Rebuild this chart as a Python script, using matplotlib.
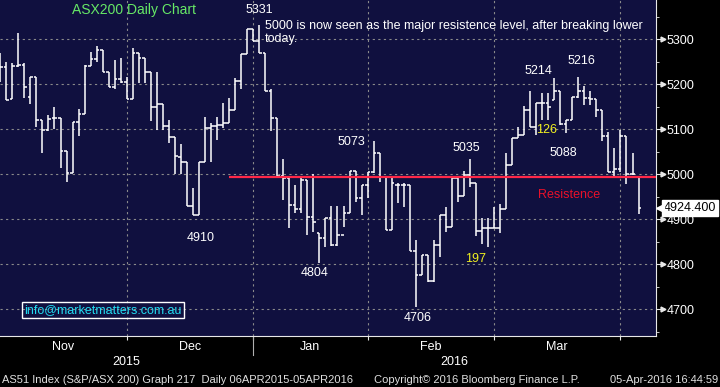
import numpy as np
import matplotlib
matplotlib.use("Agg")
import matplotlib.pyplot as plt
from matplotlib.ticker import MultipleLocator

plt.rcParams['font.family'] = ['Liberation Sans', 'DejaVu Sans']

# daily OHLC, 30-Oct-2015 .. 05-Apr-2016
opens = [5230, 5239, 5167, 5241, 5243, 5171, 5216, 5121, 5099, 5124,
         5124, 5052, 5004, 5117, 5133, 5241, 5256, 5275, 5228, 5193,
         5211, 5204, 5167, 5269, 5258, 5228, 5150, 5156, 5108, 5082,
         5039, 5028, 4930, 4910, 5028, 5102, 5107, 5110, 5115, 5143,
         5207, 5267, 5322, 5295, 5270, 5186, 5124, 4996, 4991, 4932,
         4924, 4987, 4906, 4869, 4858, 4902, 4843, 4865, 4915, 5007,
         4947, 4976, 5006, 5047, 4993, 4876, 4976, 4976, 4976, 4830,
         4776, 4821, 4764, 4844, 4910, 4882, 4991, 4952, 4999, 4980,
         4875, 4880, 4880, 4880, 4922, 5021, 5080, 5087, 5143, 5106,
         5158, 5159, 5165, 5184, 5112, 5121, 5171, 5184, 5169, 5167,
         5143, 5085, 5006, 5011, 5084, 5001, 4993]
highs = [5269, 5249, 5247, 5313, 5247, 5216, 5216, 5121, 5132, 5149,
         5124, 5052, 5117, 5144, 5243, 5271, 5285, 5275, 5228, 5254,
         5259, 5216, 5280, 5269, 5258, 5228, 5228, 5156, 5121, 5082,
         5067, 5028, 4969, 5028, 5128, 5113, 5128, 5159, 5169, 5213,
         5267, 5322, 5322, 5331, 5270, 5189, 5124, 5033, 4991, 4976,
         4991, 4987, 5001, 4869, 4902, 4930, 4930, 4930, 5007, 5007,
         4976, 5006, 5073, 5047, 4993, 4991, 4980, 4980, 4976, 4854,
         4821, 4821, 4854, 4910, 4927, 4991, 4991, 5007, 5035, 4980,
         4902, 4902, 4927, 4935, 5047, 5080, 5104, 5152, 5184, 5159,
         5180, 5181, 5214, 5184, 5121, 5171, 5216, 5196, 5184, 5167,
         5143, 5095, 5058, 5099, 5084, 5047, 4993]
lows = [5206, 5165, 5167, 5239, 5169, 5156, 5104, 5048, 5097, 5100,
        5013, 4982, 5004, 5084, 5133, 5241, 5250, 5228, 5193, 5189,
        5202, 5167, 5167, 5202, 5202, 5119, 5099, 5099, 5070, 5001,
        5000, 4930, 4910, 4910, 5028, 5028, 5076, 5102, 5115, 5143,
        5189, 5267, 5295, 5269, 5184, 5097, 4996, 4943, 4880, 4913,
        4913, 4865, 4873, 4804, 4839, 4841, 4841, 4884, 4915, 4939,
        4910, 4948, 5004, 4984, 4876, 4876, 4936, 4928, 4830, 4706,
        4776, 4761, 4761, 4816, 4871, 4882, 4939, 4952, 4971, 4863,
        4845, 4839, 4880, 4870, 4922, 5021, 5080, 5087, 5106, 5088,
        5121, 5121, 5165, 5110, 5091, 5121, 5169, 5154, 5154, 5127,
        5075, 5006, 4991, 5005, 4978, 4999, 4911]
closes = [5239, 5165, 5241, 5243, 5193, 5216, 5121, 5099, 5123, 5124,
          5052, 5004, 5117, 5133, 5241, 5256, 5275, 5228, 5193, 5211,
          5204, 5167, 5269, 5258, 5228, 5150, 5156, 5108, 5082, 5041,
          5028, 4930, 4910, 5028, 5102, 5107, 5110, 5115, 5143, 5207,
          5267, 5322, 5295, 5270, 5186, 5124, 4996, 4991, 4932, 4924,
          4987, 4906, 4895, 4858, 4902, 4843, 4865, 4915, 5007, 4947,
          4976, 5006, 5047, 4993, 4876, 4981, 4976, 4976, 4830, 4776,
          4821, 4764, 4844, 4910, 4882, 4991, 4952, 4999, 4980, 4875,
          4880, 4880, 4880, 4922, 5021, 5080, 5087, 5143, 5106, 5158,
          5159, 5150, 5184, 5112, 5121, 5171, 5184, 5169, 5167, 5143,
          5085, 5006, 5011, 5084, 5001, 5001, 4924.4]

month_names = ['Nov', 'Dec', 'Jan', 'Feb', 'Mar']
month_ends = [21, 42, 61, 82, 103]          # bar index of last trading day of month
year_names = ['2015', '2016']
yticks = [4700, 4800, 4900, 5000, 5100, 5200, 5300]
resistance = 4995
resistance_start = 38
last_price = closes[-1]

# labels on the chart: text, bar position, price level, colour
notes = [('5331', 43.1, 5365, 'white'),
         ('5073', 58.3, 5072, 'white'),
         ('4910', 33.3, 4858, 'white'),
         ('4804', 52.2, 4781, 'white'),
         ('4706', 69.4, 4680, 'white'),
         ('5035', 77.4, 5058, 'white'),
         ('197', 78.9, 4811, '#f0f020'),
         ('5214', 89.3, 5230, 'white'),
         ('5216', 96.5, 5252, 'white'),
         ('126', 90.8, 5098, '#f0f020'),
         ('5088', 93.5, 5047, 'white'),
         ('Resistence', 94.4, 4954, '#e8102a')]

W, H = 720, 387
fig = plt.figure(figsize=(W / 100, H / 100), dpi=100, facecolor='black')
ax = fig.add_axes([0, (H - 336) / H, 656 / W, 336 / H])
ax.set_facecolor('#10103f')

idx = np.arange(len(closes))
ax.vlines(idx, lows, highs, color='white', lw=1.1, zorder=3)
ax.hlines(opens, idx - 0.45, idx, color='white', lw=1.1, zorder=3)
ax.hlines(closes, idx, idx + 0.45, color='white', lw=1.1, zorder=3)

xmax = 108.9
ax.set_xlim(-0.05, xmax)
ax.set_ylim(4641, 5387)

ax.hlines(resistance, resistance_start, xmax, color='#ff2848', lw=1.6, zorder=4)

# axes, ticks, grid
ax.set_xticks(month_ends)
ax.set_xticklabels([])
ax.set_yticks(yticks)
ax.yaxis.set_minor_locator(MultipleLocator(50))
ax.yaxis.tick_right()
ax.tick_params(axis='y', which='major', colors='#e8e8e8', length=3.5, labelsize=9,
               labelcolor='white', pad=4)
ax.tick_params(axis='y', which='minor', colors='#e8e8e8', length=2.5)
ax.tick_params(axis='x', colors='#e8e8e8', length=3)
ax.grid(which='major', color='#8a8a8a', lw=0.8, ls=(0, (2, 3)))
for s in ['left', 'top']:
    ax.spines[s].set_visible(False)
for s in ['right', 'bottom']:
    ax.spines[s].set_color('#e8e8e8')
ax.plot([1.011] * len(yticks), yticks, ls='none', marker='>', ms=3.5, color='#e8e8e8',
        transform=ax.get_yaxis_transform(), clip_on=False)

# month and year labels
bounds = [-0.05] + month_ends
xtr = ax.get_xaxis_transform()
for i, m in enumerate(month_names):
    ax.text((bounds[i] + bounds[i + 1]) / 2, -0.033, m, transform=xtr, color='white',
            fontsize=9, ha='center', va='center')
ax.text(month_ends[0], -0.078, year_names[0], transform=xtr, color='white',
        fontsize=9, ha='center', va='center')
ax.text((month_ends[1] + xmax) / 2, -0.078, year_names[1], transform=xtr, color='white',
        fontsize=9, ha='center', va='center')
ax.plot([month_ends[1]] * 2, [0, -0.058], transform=xtr, color='#b0b0b0', lw=0.8,
        clip_on=False)

# texts on the chart
ax.text(11.9, 5365, 'ASX200 Daily Chart', color='#66e866', fontsize=10, va='center')
ax.text(44.0, 5343, '5000 is now seen as the major resistence level, after breaking lower\ntoday.',
        color='white', fontsize=9, va='top', linespacing=1.15)
for txt, xi, yv, col in notes:
    ax.text(xi, yv, txt, color=col, fontsize=9, ha='center', va='center', zorder=5)

# last price tag
ax.text(1.012, last_price, '4924.400', transform=ax.get_yaxis_transform(), color='black',
        fontsize=9, va='center', ha='left', zorder=6, clip_on=False,
        bbox=dict(boxstyle='square,pad=0.15', fc='white', ec='white'))
ax.plot([1.006], [last_price], marker='<', ms=6, color='white',
        transform=ax.get_yaxis_transform(), clip_on=False, zorder=6)

# contact box
fig.text(24 / W, 1 - 310 / H, 'info@marketmatters.com.au', color='#22dcf0', fontsize=9,
         va='center', bbox=dict(boxstyle='square,pad=0.18', fc='none', ec='white', lw=1))

# footer
fy = 1 - 380 / H
fig.text(2 / W, fy, 'AS51 Index (S&P/ASX 200) Graph 217  Daily 06APR2015-05APR2016',
         color='#e0e0e0', fontsize=8, va='center')
fig.text(374 / W, fy, 'Copyright\u00a9 2016 Bloomberg Finance L.P.', color='#e0e0e0',
         fontsize=8, va='center')
fig.text(718 / W, fy, '05-Apr-2016 16:44:59', color='#e0e0e0', fontsize=8,
         va='center', ha='right')

fig.savefig('out.png', dpi=100, facecolor='black')
